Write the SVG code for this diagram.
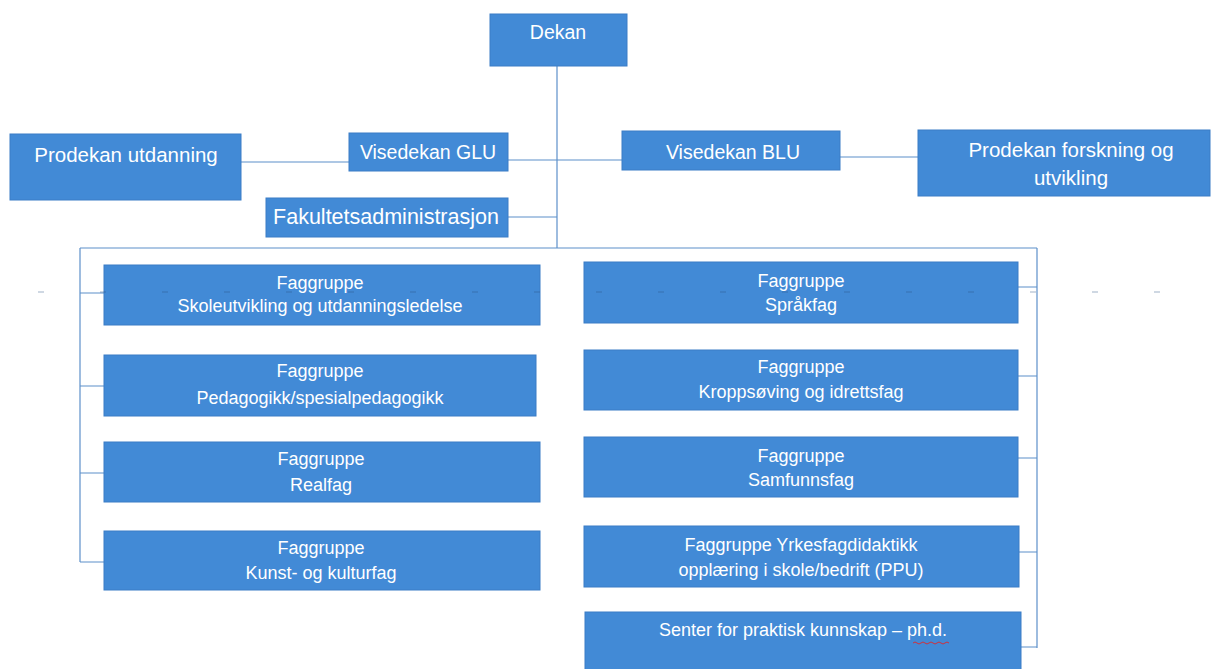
<svg xmlns="http://www.w3.org/2000/svg" width="1214" height="669" viewBox="0 0 1214 669">
<style>
.box{fill:#428ad6;stroke:#3a7cc6;stroke-width:1}
.t{font-family:"Liberation Sans","Noto Sans",sans-serif;fill:#fff;text-anchor:middle}
.big{font-size:19.5px}
.big2{font-size:20.5px}
.sm{font-size:18px}
.ln{stroke:#5d8fca;stroke-width:1.2;fill:none}
.art{stroke:#2b4f80;stroke-width:1.2;stroke-dasharray:6 56;opacity:0.45;fill:none}
</style>
<rect width="1214" height="669" fill="#fff"/>
<g id="connectors">
<path class="ln" d="M557 66V248"/>
<path class="ln" d="M241 162H349"/>
<path class="ln" d="M508 160H622"/>
<path class="ln" d="M840 157H918"/>
<path class="ln" d="M508 217H557"/>
<path class="ln" d="M80 248H1037"/>
<path class="ln" d="M80 248V562"/>
<path class="ln" d="M1037 248V648"/>
<path class="ln" d="M80 293H104M80 386H104M80 473H104M80 562H104"/>
<path class="ln" d="M1018 287H1037M1018 376H1037M1018 458H1037M1018 552H1037M1021 647H1037"/>
</g>
<g id="dekan"><rect class="box" x="490" y="14" width="137" height="52"/><text class="t big" x="558" y="39">Dekan</text></g>
<g id="prodekan-utdanning"><rect class="box" x="10" y="134" width="231" height="66"/><text class="t big2" x="126" y="162">Prodekan utdanning</text></g>
<g id="visedekan-glu"><rect class="box" x="349" y="133" width="159" height="38"/><text class="t big" x="428" y="159">Visedekan GLU</text></g>
<g id="fakultetsadministrasjon"><rect class="box" x="266" y="198" width="242" height="39"/><text class="t" style="font-size:21.5px" x="386" y="224">Fakultetsadministrasjon</text></g>
<g id="visedekan-blu"><rect class="box" x="622" y="131" width="218" height="39"/><text class="t big" x="733" y="159">Visedekan BLU</text></g>
<g id="prodekan-forskning"><rect class="box" x="918" y="130" width="292" height="66"/><text class="t big2" x="1071" y="157">Prodekan forskning og</text><text class="t big2" x="1071" y="185">utvikling</text></g>
<g id="fg-skoleutvikling"><rect class="box" x="104" y="265" width="436" height="60"/><text class="t sm" x="320" y="289">Faggruppe</text><text class="t sm" x="320" y="312">Skoleutvikling og utdanningsledelse</text></g>
<g id="fg-pedagogikk"><rect class="box" x="104" y="355" width="432" height="61"/><text class="t sm" x="320" y="377">Faggruppe</text><text class="t sm" x="320" y="404">Pedagogikk/spesialpedagogikk</text></g>
<g id="fg-realfag"><rect class="box" x="104" y="442" width="436" height="60"/><text class="t sm" x="321" y="465">Faggruppe</text><text class="t sm" x="321" y="491">Realfag</text></g>
<g id="fg-kunst"><rect class="box" x="104" y="531" width="436" height="59"/><text class="t sm" x="321" y="554">Faggruppe</text><text class="t sm" x="321" y="579">Kunst- og kulturfag</text></g>
<g id="fg-sprakfag"><rect class="box" x="584" y="262" width="434" height="61"/><text class="t sm" x="801" y="287">Faggruppe</text><text class="t sm" x="801" y="311">Språkfag</text></g>
<g id="fg-kroppsoving"><rect class="box" x="584" y="350" width="434" height="60"/><text class="t sm" x="801" y="373">Faggruppe</text><text class="t sm" x="801" y="398">Kroppsøving og idrettsfag</text></g>
<g id="fg-samfunnsfag"><rect class="box" x="584" y="437" width="434" height="60"/><text class="t sm" x="801" y="462">Faggruppe</text><text class="t sm" x="801" y="486">Samfunnsfag</text></g>
<g id="fg-yrkesfag"><rect class="box" x="584" y="526" width="435" height="61"/><text class="t sm" x="801" y="551">Faggruppe Yrkesfagdidaktikk</text><text class="t sm" x="801" y="576">opplæring i skole/bedrift (PPU)</text></g>
<g id="senter"><rect class="box" x="585" y="612" width="436" height="60"/><text class="t sm" x="803" y="636">Senter for praktisk kunnskap – ph.d.</text><path d="M913 643q2-2 4 0t4 0t4 0t4 0t4 0t4 0t4 0t4 0t4 0" fill="none" stroke="#d0303a" stroke-width="1"/></g>
<path class="art" d="M38 292H1175"/>
</svg>
